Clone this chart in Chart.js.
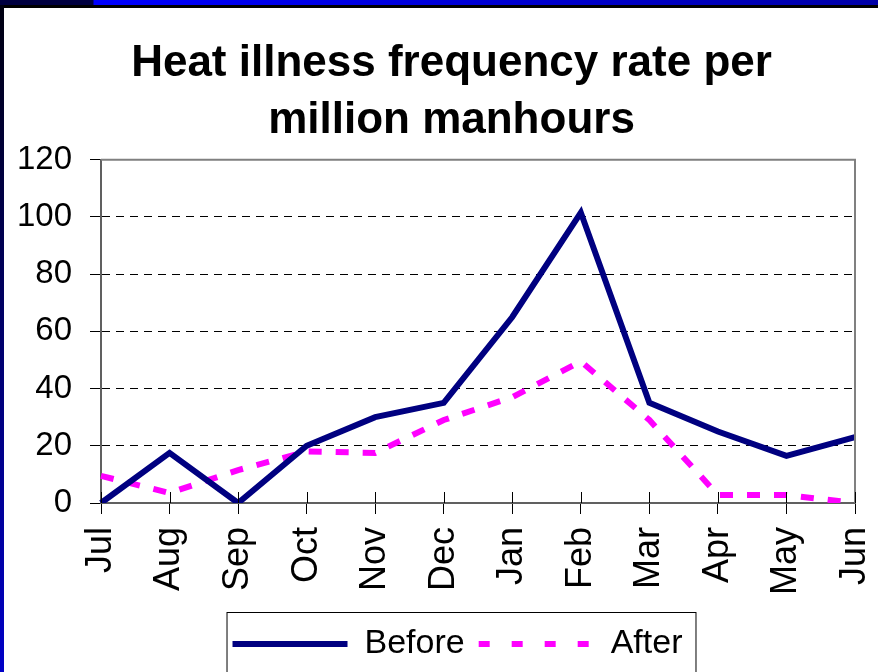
<!DOCTYPE html>
<html>
<head>
<meta charset="utf-8">
<script src="https://cdn.jsdelivr.net/npm/chart.js@4/dist/chart.umd.min.js"></script>
<style>
  html, body { margin: 0; padding: 0; }
  body { width: 878px; height: 672px; position: relative; overflow: hidden; background: #000; }
  .topbar { position: absolute; left: 0; top: 0; width: 878px; height: 5px;
    background: linear-gradient(to right, #000040 0, #000040 93px, #0000ff 94px, #0000a8 878px); }
  .sidebar { position: absolute; left: 0; top: 5px; width: 4px; height: 667px;
    background: linear-gradient(to bottom, #000010, #0000c8); }
  .wrap { position: absolute; left: 4px; top: 8px; width: 874px; height: 664px; background: #fff; }
</style>
</head>
<body>
<div class="topbar"></div>
<div class="sidebar"></div>
<div class="wrap"><canvas id="chart" width="874" height="664"></canvas></div>
<script>
const months = ['Jul', 'Aug', 'Sep', 'Oct', 'Nov', 'Dec', 'Jan', 'Feb', 'Mar', 'Apr', 'May', 'Jun'];
const before = [0, 17.5, 0, 20, 30, 35, 65, 101.5, 35, 25, 16.5, 23];
const after = [9.5, 3.5, 11.5, 18, 17.5, 29, 37, 49.5, 29, 2.8, 2.8, 0];
const yTicks = [0, 20, 40, 60, 80, 100, 120];

const font = 'Liberation Sans, Arial, sans-serif';

// title and legend sit a bit right of the canvas centre in the original
const nudge = {
    id: 'nudge',
    afterLayout(chart) {
        const t = chart.titleBlock;
        t.left += 17;
        t.right += 17;
        const lg = chart.legend;
        lg.left += 23;
        lg.right += 23;
        lg.adjustHitBoxes();
    }
};

// gray frame on top/right, tick marks crossing the x axis, box round the legend
const extras = {
    id: 'extras',
    afterDraw(chart) {
        const { ctx, chartArea: a, scales } = chart;
        ctx.save();
        ctx.strokeStyle = '#808080';
        ctx.lineWidth = 2;
        ctx.beginPath();
        ctx.moveTo(a.left, a.top);
        ctx.lineTo(a.right, a.top);
        ctx.lineTo(a.right, a.bottom);
        ctx.stroke();

        ctx.strokeStyle = '#000';
        ctx.lineWidth = 1;
        scales.x.ticks.forEach((t, i) => {
            const x = Math.round(scales.x.getPixelForTick(i)) + 0.5;
            ctx.beginPath();
            ctx.moveTo(x, a.bottom - 11);
            ctx.lineTo(x, a.bottom);
            ctx.stroke();
        });

        const boxes = chart.legend.legendHitBoxes;
        const left = Math.min(...boxes.map(b => b.left)) - 6;
        const right = Math.max(...boxes.map(b => b.left + b.width)) + 13;
        const top = 604;
        ctx.strokeStyle = '#000';
        ctx.lineWidth = 1;
        ctx.strokeRect(left + 0.5, top + 0.5, right - left, 200);
        ctx.restore();
    }
};

new Chart(document.getElementById('chart'), {
    type: 'line',
    data: {
        labels: months,
        datasets: [
            {
                label: 'Before',
                data: before,
                borderColor: '#000080',
                backgroundColor: '#000080',
                borderWidth: 6,
                pointRadius: 0,
                tension: 0,
            },
            {
                label: 'After',
                data: after,
                borderColor: '#ff00ff',
                backgroundColor: '#ff00ff',
                borderWidth: 6,
                borderDash: [13, 14],
                pointRadius: 0,
                tension: 0,
            },
        ],
    },
    options: {
        responsive: false,
        animation: false,
        layout: { padding: { left: 10, right: 23, top: 10, bottom: 1 } },
        plugins: {
            title: {
                display: true,
                text: ['Heat illness frequency rate per', 'million manhours'],
                color: '#000',
                font: { family: font, size: 44, weight: 'bold', lineHeight: 1.28 },
                padding: { top: 18, bottom: 11 },
            },
            legend: {
                position: 'bottom',
                labels: {
                    color: '#000',
                    font: { family: font, size: 34 },
                    usePointStyle: true,
                    pointStyle: 'line',
                    pointStyleWidth: 115,
                    padding: 14,
                    generateLabels(chart) {
                        const items = Chart.defaults.plugins.legend.labels.generateLabels(chart);
                        items.forEach(it => {
                            const ds = chart.data.datasets[it.datasetIndex];
                            it.strokeStyle = ds.borderColor;
                            it.lineWidth = ds.borderWidth;
                            it.lineDash = ds.borderDash ? [11, 22] : [];
                        });
                        return items;
                    },
                },
            },
            tooltip: { enabled: false },
        },
        scales: {
            x: {
                offset: false,
                afterFit(scale) {
                    scale.height = 110;
                    scale.paddingLeft = 0;
                    scale.paddingRight = 0;
                },
                grid: {
                    display: true,
                    drawOnChartArea: false,
                    offset: false,
                    tickLength: 11,
                    tickColor: '#000',
                },
                border: { color: '#606060', width: 2 },
                ticks: {
                    color: '#000',
                    font: { family: font, size: 36 },
                    autoSkip: false,
                    maxRotation: 90,
                    minRotation: 90,
                    padding: 13,
                },
            },
            y: {
                min: 0,
                max: 120,
                afterBuildTicks(scale) {
                    scale.ticks = yTicks.map(v => ({ value: v }));
                },
                afterFit(scale) {
                    scale.width = 87;
                },
                grid: {
                    color: ctx => (ctx.tick && (ctx.tick.value === 0 || ctx.tick.value === 120)) ? 'rgba(0,0,0,0)' : '#000',
                    lineWidth: 1,
                    tickLength: 11,
                    tickColor: '#000',
                    tickBorderDash: [],
                },
                border: { color: '#606060', width: 2, dash: [8, 6] },
                ticks: {
                    color: '#000',
                    font: { family: font, size: 33 },
                    padding: 18,
                },
            },
        },
    },
    plugins: [nudge, extras],
});
</script>
</body>
</html>
